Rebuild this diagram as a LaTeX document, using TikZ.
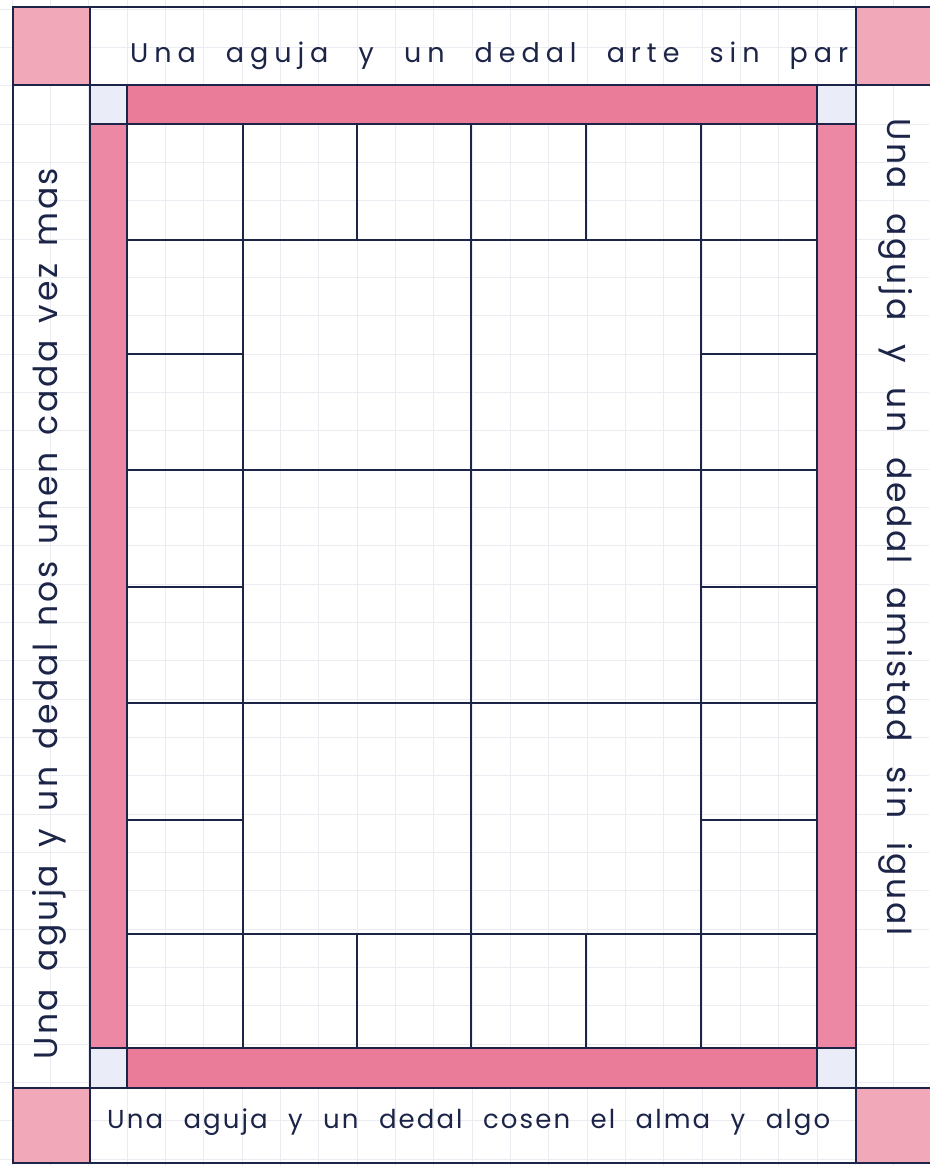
\documentclass[tikz,border=0pt]{standalone}
\usepackage{fontspec}
\newfontfamily\hand{Poppins}[LetterSpace=8]
\newfontfamily\handwide{Poppins}[LetterSpace=22]
\definecolor{ink}{RGB}{28,36,72}
\definecolor{pinkstrip}{RGB}{234,124,154}
\definecolor{pinkcorner}{RGB}{241,168,184}
\definecolor{pale}{RGB}{234,237,248}
\definecolor{paper}{RGB}{234,236,242}
\begin{document}
\begin{tikzpicture}[x=1pt,y=-1pt,
  pen/.style={draw=ink,line width=1.7pt,line cap=round},
  gridline/.style={draw=paper,line width=0.5pt},
  handtext/.style={inner sep=0pt,text=ink,font=\handwide\fontsize{27}{27}\selectfont},
  basetext/.style={inner sep=0pt,text=ink,font=\hand\fontsize{26}{26}\selectfont},
  sidetext/.style={inner sep=0pt,text=ink,font=\hand\fontsize{33}{33}\selectfont}]
\useasboundingbox (0,0) rectangle (929,1166);
\fill[white] (0,0) rectangle (929,1166);
% graph paper
\foreach \i in {-4,...,21} \draw[gridline] ({127+38.33*\i},0) -- ({127+38.33*\i},1166);
\foreach \j in {-4,...,28} \draw[gridline] (0,{124+38.33*\j}) -- (929,{124+38.33*\j});
% pink corner squares
\fill[pinkcorner] (13,7) rectangle (90,85);
\fill[pinkcorner] (856,7) rectangle (932,85);
\fill[pinkcorner] (13,1088) rectangle (90,1163);
\fill[pinkcorner] (856,1088) rectangle (932,1163);
% pink strips
\fill[pinkstrip] (127,85) rectangle (817,124);
\fill[pinkstrip] (127,1048) rectangle (817,1088);
\fill[pinkstrip,opacity=0.9] (90,124) rectangle (127,1048);
\fill[pinkstrip,opacity=0.9] (817,124) rectangle (856,1048);
% pale small squares
\fill[pale] (90,85) rectangle (127,124);
\fill[pale] (817,85) rectangle (856,124);
\fill[pale] (90,1048) rectangle (127,1088);
\fill[pale] (817,1048) rectangle (856,1088);
% frame lines
\draw[pen] (13,7) rectangle (932,1163);
\draw[pen] (90,7) -- (90,1163);
\draw[pen] (856,7) -- (856,1163);
\draw[pen] (13,85) -- (932,85);
\draw[pen] (13,1088) -- (932,1088);
\draw[pen] (127,85) -- (127,1088);
\draw[pen] (817,85) -- (817,1088);
\draw[pen] (90,124) -- (856,124);
\draw[pen] (90,1048) -- (856,1048);
% quilt grid
\foreach \x in {243,471,701} \draw[pen] (\x,124) -- (\x,1048);
\foreach \x in {357,586} {\draw[pen] (\x,124) -- (\x,240); \draw[pen] (\x,934) -- (\x,1048);}
\foreach \y in {240,470,703,934} \draw[pen] (127,\y) -- (817,\y);
\foreach \y in {354,587,820} {\draw[pen] (127,\y) -- (243,\y); \draw[pen] (701,\y) -- (817,\y);}
% texts
\node[handtext,anchor=base west] (toptext) at (130,63) {\makebox[718pt][s]{Una aguja y un dedal arte sin par}};
\node[basetext,anchor=base west] (bottomtext) at (107,1128) {\makebox[723pt][s]{Una aguja y un dedal cosen el alma y algo}};
\node[sidetext,anchor=base west,rotate=90] (lefttext) at (57,1060) {\makebox[892pt][s]{Una aguja y un dedal nos unen cada vez mas}};
\node[sidetext,anchor=base west,rotate=-90] (righttext) at (887,118) {\makebox[817pt][s]{Una aguja y un dedal amistad sin igual}};
\end{tikzpicture}
\end{document}
